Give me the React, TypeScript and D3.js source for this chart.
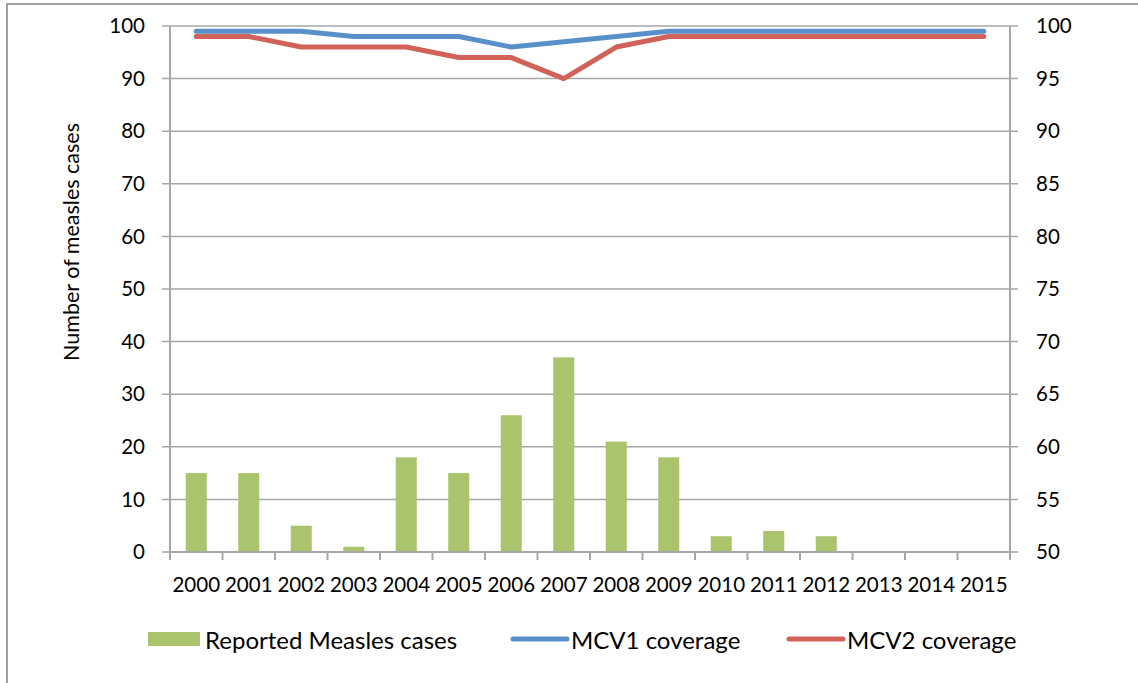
import React from "react";
import * as d3 from "d3";

const years = ["2000","2001","2002","2003","2004","2005","2006","2007","2008","2009","2010","2011","2012","2013","2014","2015"];
const measlesCases = [15,15,5,1,18,15,26,37,21,18,3,4,3,0,0,0];
const mcv1Coverage = [99,99,99,98,98,98,96,97,98,99,99,99,99,99,99,99];
const mcv2Coverage = [98,98,96,96,96,94,94,90,96,98,98,98,98,98,98,98];
const leftTicks = [0,10,20,30,40,50,60,70,80,90,100];
const rightTicks = [50,55,60,65,70,75,80,85,90,95,100];

const W = 1138, H = 683;
const left = 170, right = 1010, top = 26, bottom = 552;
const FONT = "Lato, 'Open Sans', sans-serif";
const GREEN = "#A9C46C", BLUE = "#5A90C9", RED = "#D0625A";
const GRID = "#A6A6A6";

export default function App() {
  const x = d3.scaleBand<string>().domain(years).range([left, right]).padding(0);
  const yL = d3.scaleLinear().domain([0, 100]).range([bottom, top]);
  const yR = d3.scaleLinear().domain([50, 100]).range([bottom, top]);
  const bw = x.bandwidth() * 0.4;
  const cx = (d: string) => (x(d) as number) + x.bandwidth() / 2;
  const line = d3.line<number>().x((_, i) => cx(years[i])).y(v => yL(v));
  const boundaries = years.map(y => x(y) as number).concat([right]);

  return (
    <svg width={W} height={H} style={{ position: "absolute", left: 0, top: 0, background: "#fff" }} fontFamily={FONT}>
      <rect x={7} y={4} width={W + 10} height={H + 10} fill="#fff" stroke="#A0A0A0" strokeWidth={2} />
      {leftTicks.map(t => (
        <line key={"g" + t} x1={left - 8} x2={right + 8} y1={yL(t)} y2={yL(t)} stroke={GRID} strokeWidth={1.5} />
      ))}
      {measlesCases.map((v, i) => (
        <rect key={"b" + i} x={cx(years[i]) - bw / 2} y={yL(v)} width={bw} height={bottom - yL(v)} fill={GREEN} />
      ))}
      <line x1={left} x2={left} y1={top} y2={bottom} stroke={GRID} strokeWidth={2} />
      <line x1={right} x2={right} y1={top} y2={bottom + 8} stroke={GRID} strokeWidth={2} />
      <line x1={left} x2={right} y1={bottom} y2={bottom} stroke={GRID} strokeWidth={2} />
      {boundaries.map((b, i) => (
        <line key={"t" + i} x1={b} x2={b} y1={bottom} y2={bottom + 8} stroke={GRID} strokeWidth={2} />
      ))}
      <path d={line(mcv1Coverage) || ""} fill="none" stroke={BLUE} strokeWidth={5} strokeLinecap="round" strokeLinejoin="round" />
      <path d={line(mcv2Coverage) || ""} fill="none" stroke={RED} strokeWidth={5} strokeLinecap="round" strokeLinejoin="round" />
      {leftTicks.map(t => (
        <text key={"l" + t} x={145} y={yL(t)} dy="0.35em" textAnchor="end" fontSize={20.5} fill="#000">{t}</text>
      ))}
      {rightTicks.map(t => (
        <text key={"r" + t} x={1036} y={yR(t)} dy="0.35em" textAnchor="start" fontSize={20.5} fill="#000">{t}</text>
      ))}
      {years.map(y => (
        <text key={"x" + y} x={cx(y)} y={585} dy="0.35em" textAnchor="middle" fontSize={20.5} fill="#000">{y}</text>
      ))}
      <text transform={`translate(79,242) rotate(-90)`} textAnchor="middle" fontSize={21.5} fill="#000">Number of measles cases</text>
      <rect x={148} y={632} width={52} height={14} fill={GREEN} />
      <text x={205} y={641} dy="0.35em" fontSize={24} fill="#000">Reported Measles cases</text>
      <line x1={513} x2={567} y1={639} y2={639} stroke={BLUE} strokeWidth={5} strokeLinecap="round" />
      <text x={571} y={641} dy="0.35em" fontSize={24} fill="#000">MCV1 coverage</text>
      <line x1={789} x2={843} y1={639} y2={639} stroke={RED} strokeWidth={5} strokeLinecap="round" />
      <text x={847} y={641} dy="0.35em" fontSize={24} fill="#000">MCV2 coverage</text>
    </svg>
  );
}
